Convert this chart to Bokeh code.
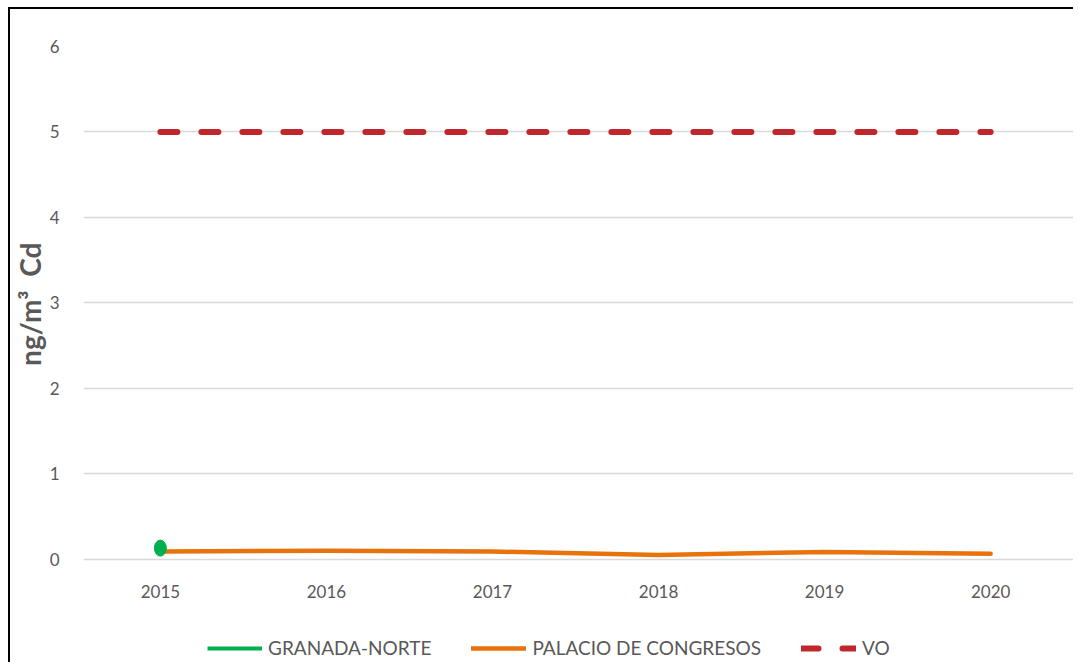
from bokeh.plotting import figure
from bokeh.models import ColumnDataSource, Legend, LegendItem, FixedTicker, Range1d, Title
from bokeh.embed import file_html
from bokeh.resources import INLINE

years = [2015, 2016, 2017, 2018, 2019, 2020]
granada_years = [2015]
granada_norte = [0.13]
palacio = [0.09, 0.10, 0.09, 0.05, 0.085, 0.065]
vo = [5, 5, 5, 5, 5, 5]
y_ticks = [0, 1, 2, 3, 4, 5, 6]

FONT = "Lato"
TXT = "#595959"

p = figure(width=1065, height=655, output_backend="svg", toolbar_location=None,
           x_range=Range1d(2014.537, 2020.511), y_range=Range1d(-1.232, 6),
           min_border_left=71, min_border_right=0, min_border_top=37, min_border_bottom=0)
p.margin = (7, 0, 0, 8)
p.styles = {"border-left": "2px solid black", "border-top": "2px solid black",
            "border-right": "0px none", "border-bottom": "0px none"}
p.outline_line_color = None
p.background_fill_color = "white"
p.border_fill_color = "white"

p.xgrid.grid_line_color = None
p.ygrid.grid_line_color = "#d9d9d9"
p.ygrid.grid_line_width = 1.5
p.yaxis.ticker = FixedTicker(ticks=y_ticks)
p.xaxis.ticker = FixedTicker(ticks=years)
p.xaxis.fixed_location = 0

for ax in (p.xaxis, p.yaxis):
    ax.axis_line_color = None
    ax.major_tick_line_color = None
    ax.minor_tick_line_color = None
    ax.major_label_text_font = FONT
    ax.major_label_text_font_size = "17px"
    ax.major_label_text_color = TXT
p.xaxis.major_label_standoff = 20
p.yaxis.major_label_standoff = 18

ytitle = Title(text="ng/m³\u00a0\u00a0Cd", align="right", offset=196, standoff=0,
               text_font=FONT, text_font_style="bold", text_font_size="28px",
               text_color=TXT)
p.add_layout(ytitle, "left")

src_p = ColumnDataSource(dict(x=years, y=palacio))
src_v = ColumnDataSource(dict(x=years, y=vo))
src_g = ColumnDataSource(dict(x=granada_years, y=granada_norte))

r_vo = p.line("x", "y", source=src_v, line_color="#c0272d", line_width=6,
              line_dash="17 24", line_cap="round")
r_pal = p.line("x", "y", source=src_p, line_color="#e8720c", line_width=4.5,
               line_cap="round", line_join="round")
r_gr = p.line("x", "y", source=src_g, line_color="#00b050", line_width=4)
p.ellipse("x", "y", source=src_g, width=12, height=16, width_units="screen",
          height_units="screen", fill_color="#00b050", line_color="#00b050")

legend = Legend(items=[
    LegendItem(label="GRANADA-NORTE", renderers=[r_gr]),
    LegendItem(label="PALACIO DE CONGRESOS", renderers=[r_pal]),
    LegendItem(label="VO", renderers=[r_vo]),
], orientation="horizontal", location=(124, 5))
legend.glyph_width = 55
legend.glyph_height = 20
legend.label_standoff = 6
legend.spacing = 40
legend.padding = 0
legend.margin = 0
legend.border_line_color = None
legend.background_fill_alpha = 0
legend.label_text_font = FONT
legend.label_text_font_size = "19px"
legend.label_text_color = TXT
p.add_layout(legend, "center")

open("out.html", "w").write(file_html(p, INLINE))
